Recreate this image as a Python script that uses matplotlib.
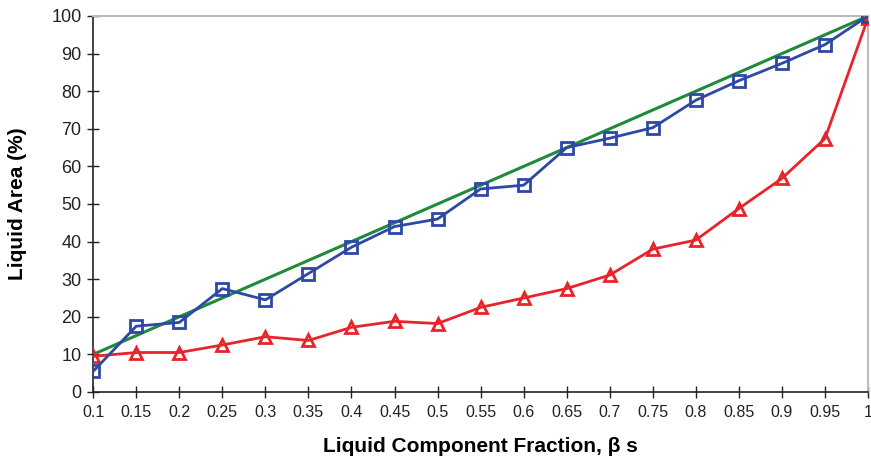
import matplotlib
matplotlib.use("Agg")
import matplotlib.pyplot as plt

x = [0.1, 0.15, 0.2, 0.25, 0.3, 0.35, 0.4, 0.45, 0.5, 0.55, 0.6, 0.65, 0.7, 0.75, 0.8, 0.85, 0.9, 0.95, 1.0]
x_labels = ["0.1", "0.15", "0.2", "0.25", "0.3", "0.35", "0.4", "0.45", "0.5", "0.55", "0.6", "0.65", "0.7", "0.75", "0.8", "0.85", "0.9", "0.95", "1"]
ideal = [10, 15, 20, 25, 30, 35, 40, 45, 50, 55, 60, 65, 70, 75, 80, 85, 90, 95, 100]
blue = [5.5, 17.5, 18.5, 27.5, 24.5, 31.5, 38.5, 44, 46, 54, 55, 65, 67.5, 70.3, 77.6, 82.8, 87.4, 92.4, 100]
red = [9.5, 10.5, 10.5, 12.5, 14.7, 13.7, 17.2, 18.8, 18.2, 22.5, 25, 27.5, 31.1, 38, 40.4, 48.8, 56.8, 67.4, 99.5]
y_ticks = [0, 10, 20, 30, 40, 50, 60, 70, 80, 90, 100]

plt.rcParams['font.family'] = ['Liberation Sans', 'DejaVu Sans']

fig = plt.figure(figsize=(8.71, 4.61), dpi=100)
ax = fig.add_axes([0.107, 0.1497, 0.8896, 0.8156])

ax.plot(x, ideal, color="#1f8a3b", lw=2.2, zorder=2)
ax.plot(x, red, color="#e8242a", lw=2, marker="^", markersize=9, markerfacecolor="none",
        markeredgewidth=2, zorder=3)
ax.plot(x, blue, color="#2d48a6", lw=2, marker="s", markersize=8.5, markerfacecolor="none",
        markeredgewidth=2, zorder=4)

ax.set_xlim(0.1, 1.0)
ax.set_ylim(0, 100)
ax.set_xticks(x)
ax.set_xticklabels(x_labels, fontsize=11.5)
ax.set_yticks(y_ticks)
ax.set_yticklabels([str(v) for v in y_ticks], fontsize=13)
ax.tick_params(axis="both", direction="inout", length=9, width=1, colors="#222222")
ax.tick_params(axis="x", pad=5)
ax.tick_params(axis="y", pad=4)

for s in ["top", "right"]:
    ax.spines[s].set_color("#bbbbbb")
    ax.spines[s].set_linewidth(1.5)
for s in ["left", "bottom"]:
    ax.spines[s].set_color("#222222")
    ax.spines[s].set_linewidth(1.2)

ax.set_xlabel("Liquid Component Fraction, β s", fontsize=15, fontweight="bold", labelpad=12)
ax.set_ylabel("Liquid Area (%)", fontsize=15, fontweight="bold")
ax.yaxis.set_label_coords(-0.086, 0.5)

fig.savefig("out.png", dpi=100)
